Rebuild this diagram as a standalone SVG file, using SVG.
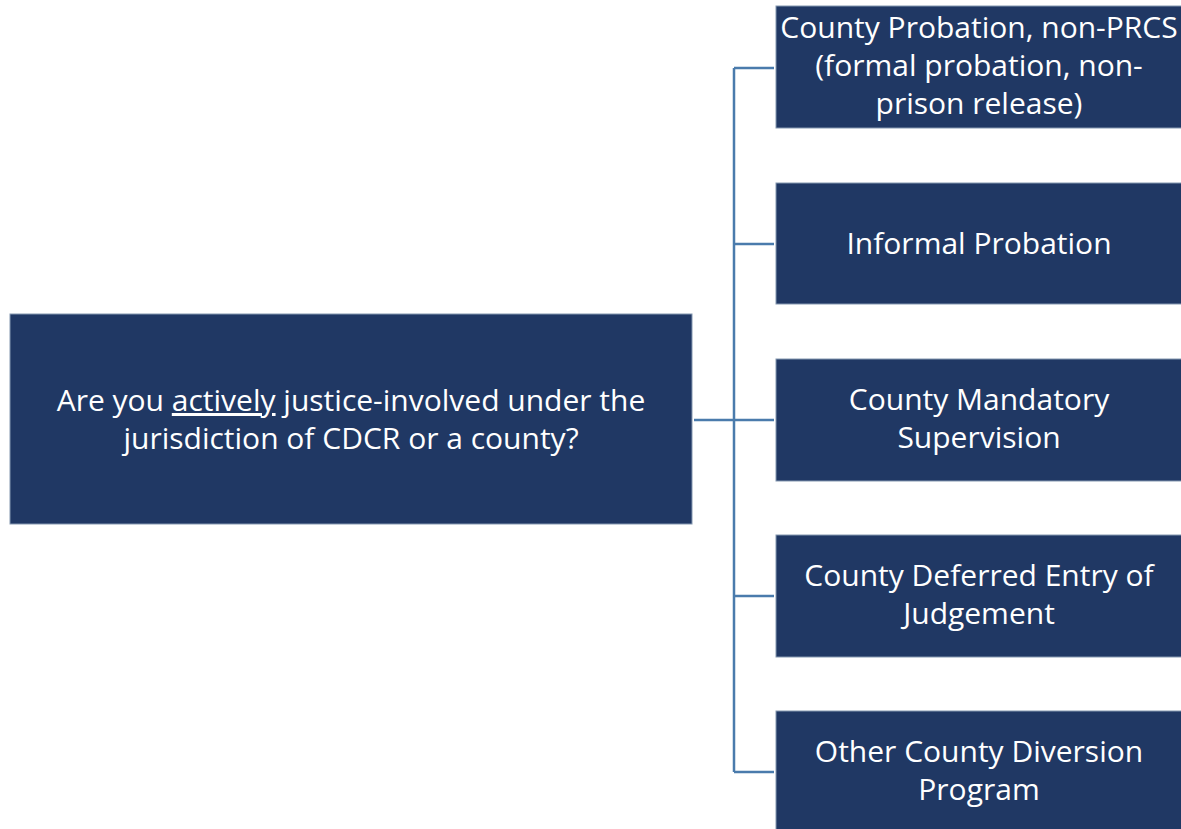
<svg xmlns="http://www.w3.org/2000/svg" width="1181" height="829" viewBox="0 0 1181 829">
<style>
.box{fill:#203864;stroke:#8497b0;stroke-width:1}
.t{font-family:"Open Sans","Noto Sans","Liberation Sans",sans-serif;font-size:30px;fill:#ffffff;text-anchor:middle}
.c{stroke:#4a7bac;stroke-width:2.5;fill:none}
</style>
<rect width="1181" height="829" fill="#ffffff"/>
<g id="connectors">
<path class="c" d="M694 420H734M734 68V772M734 68H774M734 244H774M734 420H774M734 596H774M734 772H774"/>
</g>
<g id="q">
<rect class="box" x="10" y="314" width="682" height="210"/>
<text class="t" x="351" y="411">Are you <tspan text-decoration="underline">actively</tspan> justice-involved under the</text>
<text class="t" x="351" y="449">jurisdiction of CDCR or a county?</text>
</g>
<g id="n1">
<rect class="box" x="776" y="6" width="410" height="122"/>
<text class="t" x="979" y="38">County Probation, non-PRCS</text>
<text class="t" x="979" y="76">(formal probation, non-</text>
<text class="t" x="979" y="114">prison release)</text>
</g>
<g id="n2">
<rect class="box" x="776" y="183" width="410" height="121"/>
<text class="t" x="979" y="254">Informal Probation</text>
</g>
<g id="n3">
<rect class="box" x="776" y="359" width="410" height="122"/>
<text class="t" x="979" y="410">County Mandatory</text>
<text class="t" x="979" y="448">Supervision</text>
</g>
<g id="n4">
<rect class="box" x="776" y="535" width="410" height="122"/>
<text class="t" x="979" y="586">County Deferred Entry of</text>
<text class="t" x="979" y="624">Judgement</text>
</g>
<g id="n5">
<rect class="box" x="776" y="711" width="410" height="122"/>
<text class="t" x="979" y="762">Other County Diversion</text>
<text class="t" x="979" y="800">Program</text>
</g>
</svg>
